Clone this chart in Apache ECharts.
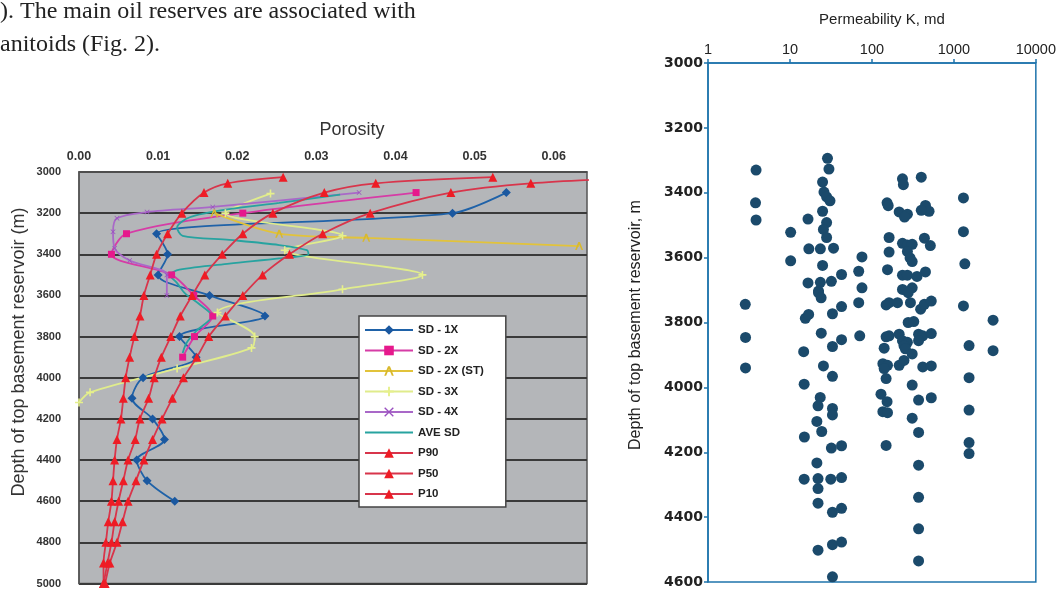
<!DOCTYPE html>
<html><head><meta charset="utf-8">
<script src="https://cdn.jsdelivr.net/npm/echarts@6/dist/echarts.min.js"></script>
<style>html,body{margin:0;padding:0;background:#fff}#c{width:1059px;height:589px}</style>
</head><body><div id="c"></div>
<script>
// ---------- Left chart: porosity vs depth ----------
const pDepths = [3025,3055,3100,3200,3300,3400,3500,3600,3700,3800,3900,4000,4100,4200,4300,4400,4500,4600,4700,4800,4900,5000];
const p90 = [0.0258,0.0188,0.0158,0.0130,0.0112,0.0098,0.0090,0.0082,0.0077,0.0070,0.0064,0.0059,0.0056,0.0053,0.0048,0.0045,0.0043,0.0041,0.0037,0.0034,0.0031,0.0031];
const p50 = [0.0523,0.0375,0.0310,0.0245,0.0207,0.0181,0.0159,0.0143,0.0128,0.0116,0.0104,0.0095,0.0088,0.0077,0.0071,0.0062,0.0056,0.0050,0.0045,0.0041,0.0036,0.0031];
const p10 = [0.0722,0.0571,0.0470,0.0368,0.0308,0.0266,0.0232,0.0207,0.0185,0.0164,0.0149,0.0132,0.0118,0.0105,0.0093,0.0082,0.0072,0.0062,0.0055,0.0048,0.0039,0.0033];

const sd1xDepths = [3100,3200,3300,3400,3500,3600,3700,3800,3900,4000,4100,4200,4300,4400,4500,4600];
const sd1x = [0.0540,0.0472,0.0098,0.0112,0.0100,0.0165,0.0235,0.0127,0.0148,0.0081,0.0067,0.0093,0.0108,0.0073,0.0086,0.0121];

const sd2xDepths = [3100,3200,3300,3400,3500,3600,3700,3800,3900];
const sd2x = [0.0426,0.0207,0.0060,0.0041,0.0117,0.0145,0.0169,0.0146,0.0131];

const sd2xstDepths = [3200,3300,3320,3360];
const sd2xst = [0.0171,0.0253,0.0363,0.0632];

const sd3xDepths = [3105,3200,3310,3380,3500,3570,3683,3800,3855,3955,4071,4120];
const sd3x = [0.0242,0.0185,0.0333,0.0260,0.0434,0.0333,0.0175,0.0222,0.0218,0.0124,0.0014,0.0000];

const sd4xDepths = [3100,3170,3195,3225,3290,3370,3430,3500,3600];
const sd4x = [0.0354,0.0169,0.0086,0.0048,0.0043,0.0045,0.0064,0.0111,0.0111];

const aveDepths = [3110,3150,3180,3220,3270,3310,3330,3355,3380,3400,3420,3445,3475,3500,3540,3590,3645,3700,3770,3830,3880];
const aveSd = [0.0330,0.0253,0.0190,0.0140,0.0124,0.0131,0.0190,0.0253,0.0288,0.0290,0.0253,0.0190,0.0127,0.0115,0.0124,0.0134,0.0153,0.0168,0.0149,0.0136,0.0131];

const porosityTicks = ['0.00','0.01','0.02','0.03','0.04','0.05','0.06'];

// ---------- Right chart: permeability vs depth ----------
const permK = [3.86,3.8,3.86,28.7,29.9,25,26,28,30.8,25,16.6,28,25.6,10.2,28,17,23.5,34,10.2,25,42.6,32,16.6,23.5,22.3,
 75.6,69,75.6,153,158,236,242,400,215,271,250,450,498,400,162,236,271,310,437,516,162,271,292,310,155,236,271,355,450,236,310,
 1308,1308,1360,
 2.85,2.87,2.87,14.7,14.9,15,14.9,15.4,16.9,24.1,25.6,21.3,24.4,23.4,22,21.3,22,22,22,22,22.3,24,
 33,42.6,42.6,33,33,33,33,32,42.6,31.5,42.6,33,42.6,33,42.6,33,
 69,71,149,162,205,162,149,215,236,271,246,141,256,277,324,277,295,393,436,530,371,417,530,371,
 136,155,141,149,215,246,310,417,530,310,371,530,129,153,136,155,149,310,371,371,371,371,371,
 1308,1532,1532,1532,1532,1532,3007,3007];
const depthM = [3330,3431,3484,3294,3327,3367,3398,3413,3425,3457,3481,3492,3513,3522,3538,3573,3573,3571,3610,3624,3652,3673,3678,3676,3703,
 3598,3642,3693,3431,3440,3357,3375,3352,3459,3466,3475,3439,3457,3454,3538,3556,3561,3559,3540,3563,3583,3581,3601,3612,3637,3654,3654,3658,3644,3698,3693,
 3416,3520,3619,
 3744,3846,3940,3890,3990,4153,4283,3787,3775,3833,3934,4105,4136,4031,4057,4233,4281,4312,4357,4502,3708,3724,
 3773,3751,3853,3874,3966,4065,4085,4187,4180,4283,4278,4385,4373,4485,4477,4584,
 3739,3841,3746,3739,3739,3841,3844,3836,3856,3861,3871,3879,3881,3800,3797,3708,3739,3759,3744,3734,3836,3841,3834,3856,
 3927,3932,3942,3973,3932,3917,3897,3937,3934,3993,4039,4032,4021,4044,4075,4078,4179,4095,4139,4240,4339,4436,4535,
 3749,3871,3970,4070,4170,4204,3793,3887];
const permTicks = ['1','10','100','1000','10000'];

const pairs = (xs, ds) => xs.map((v, i) => [v, ds[i]]);
const PLUS = 'path://M4,0L6,0L6,4L10,4L10,6L6,6L6,10L4,10L4,6L0,6L0,4L4,4Z';
const CROSS = 'path://M0,1L1,0L5,4L9,0L10,1L6,5L10,9L9,10L5,6L1,10L0,9L4,5Z';
const CARET = 'path://M4,0L6,0L10,10L8,10L5,3L2,10L0,10Z';

function lineSeries(name, data, color, symbol, size, markColor) {
  return {
    name, type: 'line', xAxisIndex: 0, yAxisIndex: 0, data,
    smooth: 0.3, symbol: symbol, symbolSize: size, showSymbol: symbol !== 'none',
    lineStyle: { color, width: 1.8 },
    itemStyle: { color: markColor || color, borderWidth: 0 },
    clip: true, z: 3
  };
}

const chart = echarts.init(document.getElementById('c'), null, { renderer: 'canvas' });
const option = {
  animation: false,
  backgroundColor: '#fff',
  grid: [
    { left: 79, top: 172, width: 508, height: 413, show: true, backgroundColor: '#b4b6b9', borderColor: '#555', borderWidth: 1.5 },
    { left: 708, top: 63, width: 331, height: 523, show: true, backgroundColor: '#fff', borderColor: '#1f74ac', borderWidth: 1.5 }
  ],
  xAxis: [
    { type: 'value', gridIndex: 0, position: 'top', min: 0, max: 0.0642, interval: 0.01,
      axisLine: { show: true, lineStyle: { color: '#555', width: 1.5 } }, axisTick: { show: false },
      splitLine: { show: false },
      axisLabel: { margin: 9, fontSize: 12.5, fontWeight: 'bold', color: '#333', fontFamily: 'Liberation Sans',
        formatter: v => { const i = Math.round(v * 100); return Math.abs(v * 100 - i) < 1e-6 ? porosityTicks[i] : ''; } } },
    { type: 'log', logBase: 10, gridIndex: 1, position: 'top', min: 1, max: 10000,
      axisLine: { show: true, lineStyle: { color: '#1f74ac', width: 1.5 } },
      axisTick: { show: true, length: 4, lineStyle: { color: '#1f74ac', width: 1.5 } },
      minorTick: { show: false }, splitLine: { show: false },
      axisLabel: { margin: 6, fontSize: 14.5, color: '#222', fontFamily: 'Liberation Sans',
        formatter: v => permTicks[Math.round(Math.log10(v))] } }
  ],
  yAxis: [
    { type: 'value', gridIndex: 0, inverse: true, min: 3000, max: 5000, interval: 200,
      axisLine: { show: true, lineStyle: { color: '#555', width: 1.5 } }, axisTick: { show: false },
      splitLine: { show: true, lineStyle: { color: '#3a3a3a', width: 2 } },
      axisLabel: { margin: 18, fontSize: 11, fontWeight: 'bold', color: '#333', fontFamily: 'Liberation Sans',
        formatter: v => String(v) } },
    { type: 'value', gridIndex: 1, inverse: true, min: 3000, max: 4600, interval: 200,
      axisLine: { show: true, lineStyle: { color: '#1f74ac', width: 1.5 } },
      axisTick: { show: true, length: 4, lineStyle: { color: '#1f74ac', width: 1.5 } },
      splitLine: { show: false },
      axisLabel: { margin: 5, fontSize: 14, fontWeight: 'bold', color: '#222', fontFamily: 'DejaVu Sans',
        formatter: v => String(v) } }
  ],
  legend: {
    orient: 'vertical', left: 359, top: 316, itemWidth: 48, itemHeight: 12, itemGap: 8.5,
    backgroundColor: '#fff', borderColor: '#444', borderWidth: 1.5, borderRadius: 0,
    padding: [8, 22, 7, 5],
    textStyle: { fontSize: 11.5, fontWeight: 'bold', color: '#222', fontFamily: 'Liberation Sans' },
    data: ['SD - 1X','SD - 2X','SD - 2X (ST)','SD - 3X','SD - 4X',
      { name: 'AVE SD', itemStyle: { color: 'rgba(0,0,0,0)', borderWidth: 0 } },
      'P90','P50','P10']
  },
  graphic: [
    { type: 'text', left: 0, top: 0, style: { text: '). The main oil reserves are associated with', font: '24px "Liberation Serif"', fill: '#222' } },
    { type: 'text', left: 0, top: 33, style: { text: 'anitoids (Fig. 2).', font: '24px "Liberation Serif"', fill: '#222' } },
    { type: 'text', x: 352, y: 130, style: { text: 'Porosity', font: '18px "Liberation Sans"', fill: '#333', align: 'center', verticalAlign: 'middle' } },
    { type: 'text', x: 19, y: 352, rotation: Math.PI / 2, style: { text: 'Depth of top basement reservoir (m)', font: '18px "Liberation Sans"', fill: '#333', align: 'center', verticalAlign: 'middle' } },
    { type: 'text', x: 882, y: 20, style: { text: 'Permeability K, md', font: '15px "Liberation Sans"', fill: '#222', align: 'center', verticalAlign: 'middle' } },
    { type: 'text', x: 636, y: 325, rotation: Math.PI / 2, style: { text: 'Depth of top basement reservoir, m', font: '16px "Liberation Sans"', fill: '#222', align: 'center', verticalAlign: 'middle' } }
  ],
  series: [
    lineSeries('SD - 1X', pairs(sd1x, sd1xDepths), '#1f62a8', 'diamond', 9, '#1a58a0'),
    lineSeries('SD - 2X', pairs(sd2x, sd2xDepths), '#d63ca6', 'rect', 7, '#e6198c'),
    lineSeries('SD - 2X (ST)', pairs(sd2xst, sd2xstDepths), '#e2c33a', CARET, 8, '#d9b92c'),
    lineSeries('SD - 3X', pairs(sd3x, sd3xDepths), '#e0ec8c', PLUS, 8, '#e6f08c'),
    lineSeries('SD - 4X', pairs(sd4x, sd4xDepths), '#a968c8', CROSS, 5, '#9a50c0'),
    lineSeries('AVE SD', pairs(aveSd, aveDepths), '#27a3a0', 'none', 0),
    lineSeries('P90', pairs(p90, pDepths), '#d8354b', 'triangle', 9, '#ee1c25'),
    lineSeries('P50', pairs(p50, pDepths), '#d8354b', 'triangle', 9, '#ee1c25'),
    lineSeries('P10', pairs(p10, pDepths), '#d8354b', 'triangle', 9, '#ee1c25'),
    { name: 'K', type: 'scatter', xAxisIndex: 1, yAxisIndex: 1, data: pairs(permK, depthM),
      symbolSize: 11, itemStyle: { color: '#1b4a6b', opacity: 1 } }
  ]
};
chart.setOption(option);
</script></body></html>
